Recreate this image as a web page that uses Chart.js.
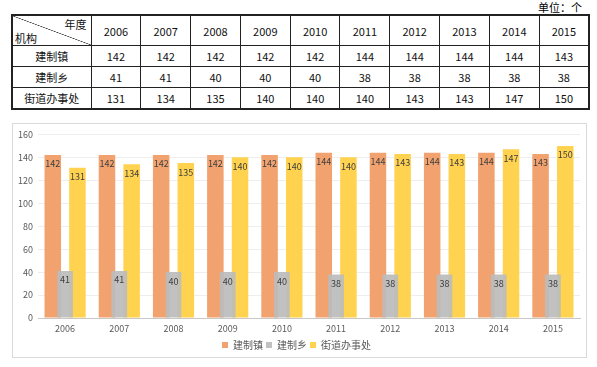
<!DOCTYPE html>
<html>
<head>
<meta charset="utf-8">
<script src="https://cdn.jsdelivr.net/npm/chart.js@4/dist/chart.umd.min.js"></script>
<style>
    body { margin: 0; background: #fff; font-family: "Noto Sans CJK SC", sans-serif; }
    #unit { position: absolute; left: 500px; top: 0; width: 82px; text-align: right; font-size: 11px; line-height: 14px; }
    #table { position: absolute; left: 11px; top: 14px; width: 579px; border-collapse: collapse; table-layout: fixed; border: 2px solid #222; font-size: 11px; color: #111; }
    #table td { border: 1px solid #222; text-align: center; padding: 0; height: 20px; line-height: 12px; }
    #table tr.head td { height: 29px; }
    #table td.corner { position: relative; background: linear-gradient(to top right, transparent calc(50% - 0.6px), #333 50%, transparent calc(50% + 0.6px)); }
    .corner .t { position: absolute; right: 4px; top: 2px; }
    .corner .b { position: absolute; left: 2px; bottom: 1px; }
    #box { position: absolute; left: 12px; top: 123px; width: 575px; height: 235px; border: 1px solid #d9d9d9; box-sizing: border-box; }
</style>
</head>
<body>
<div id="unit">单位：个</div>
<table id="table"></table>
<div id="box"><canvas id="chart"></canvas></div>
<script>
// Data
const years = ['2006', '2007', '2008', '2009', '2010', '2011', '2012', '2013', '2014', '2015'];
const towns = [142, 142, 142, 142, 142, 144, 144, 144, 144, 143];      // 建制镇
const villages = [41, 41, 40, 40, 40, 38, 38, 38, 38, 38];             // 建制乡
const streets = [131, 134, 135, 140, 140, 140, 143, 143, 147, 150];    // 街道办事处
const yTicks = [0, 20, 40, 60, 80, 100, 120, 140, 160];

// Table above the chart
const table = document.getElementById('table');
let html = '<colgroup><col style="width:79px">' + years.map(() => '<col>').join('') + '</colgroup>';
html += '<tr class="head"><td class="corner"><span class="t">年度</span><span class="b">机构</span></td>' +
    years.map(y => `<td>${y}</td>`).join('') + '</tr>';
[['建制镇', towns], ['建制乡', villages], ['街道办事处', streets]].forEach(([name, vals]) => {
    html += `<tr><td>${name}</td>` + vals.map(v => `<td>${v}</td>`).join('') + '</tr>';
});
table.innerHTML = html;

// Value labels inside the top of each bar
const barLabels = {
    id: 'barLabels',
    afterDatasetsDraw(chart) {
        const ctx = chart.ctx;
        ctx.save();
        ctx.font = '9px "Noto Sans CJK SC", sans-serif';
        ctx.fillStyle = '#404040';
        ctx.textAlign = 'center';
        ctx.textBaseline = 'middle';
        chart.data.datasets.forEach((ds, i) => {
            chart.getDatasetMeta(i).data.forEach((bar, j) => {
                ctx.fillText(ds.data[j], bar.x, bar.y + 9);
            });
        });
        ctx.restore();
    }
};

// nudge the legend a little lower
const legendShift = {
    id: 'legendShift',
    afterLayout(chart) {
        chart.legend.top += 3;
        chart.legend.bottom += 3;
    }
};

const tickFont = { family: '"Noto Sans CJK SC", sans-serif', size: 9 };

new Chart(document.getElementById('chart'), {
    type: 'bar',
    data: {
        labels: years,
        datasets: [
            {
                label: '建制镇',
                data: towns,
                backgroundColor: '#F2A26E',
                categoryPercentage: 0.91,
                barPercentage: 0.67,
                order: 1
            },
            {
                label: '建制乡',
                data: villages,
                backgroundColor: 'rgba(188, 188, 188, 0.92)',
                grouped: false,
                categoryPercentage: 1,
                barPercentage: 0.29,
                order: 0
            },
            {
                label: '街道办事处',
                data: streets,
                backgroundColor: '#FFD24F',
                categoryPercentage: 0.91,
                barPercentage: 0.67,
                order: 1
            }
        ]
    },
    options: {
        responsive: true,
        maintainAspectRatio: false,
        animation: false,
        layout: { padding: { top: 8, right: 6, left: 0, bottom: 0 } },
        plugins: {
            legend: {
                position: 'bottom',
                labels: {
                    boxWidth: 6,
                    boxHeight: 6,
                    padding: 3,
                    color: '#595959',
                    font: { family: '"Noto Sans CJK SC", sans-serif', size: 10 },
                    sort: (a, b) => a.datasetIndex - b.datasetIndex
                }
            },
            tooltip: { enabled: false }
        },
        scales: {
            x: {
                afterFit: (axis) => { axis.height = 16; },
                grid: { display: false, drawTicks: false },
                border: { color: '#c8c8c8' },
                ticks: { color: '#595959', font: tickFont, padding: 5 }
            },
            y: {
                min: 0,
                max: 160,
                afterBuildTicks: (axis) => { axis.ticks = yTicks.map(v => ({ value: v })); },
                afterFit: (axis) => { axis.width = 25; },
                grid: { color: '#eeeeee', drawTicks: false },
                border: { display: false },
                ticks: { color: '#595959', font: tickFont, padding: 5 }
            }
        }
    },
    plugins: [barLabels, legendShift]
});
</script>
</body>
</html>
